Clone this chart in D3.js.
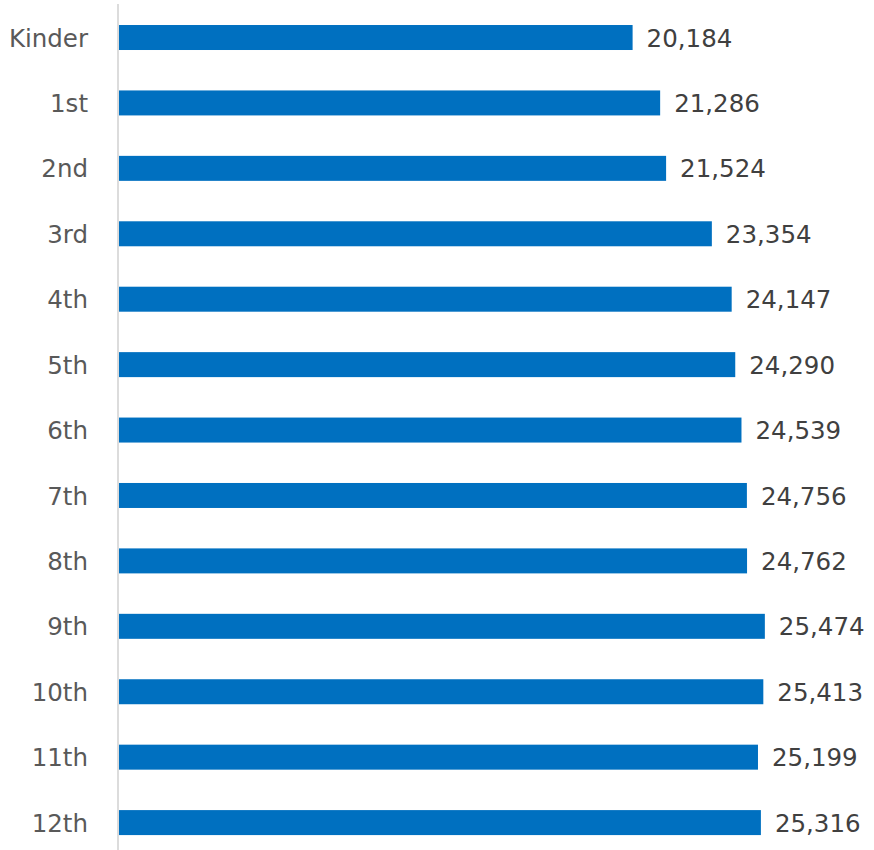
<!DOCTYPE html>
<html><head><meta charset="utf-8">
<script src="https://cdn.jsdelivr.net/npm/d3@7"></script>
<style>body{margin:0;background:#fff}</style>
</head><body>
<svg id="c" width="874" height="850"></svg>
<script>
const categories = ["Kinder","1st","2nd","3rd","4th","5th","6th","7th","8th","9th","10th","11th","12th"];
const values = [20184,21286,21524,23354,24147,24290,24539,24756,24762,25474,25413,25199,25316];

const svg = d3.select("#c");
const axisX = 118;
const x = d3.scaleLinear().domain([0, 30000]).range([128, 878]);
const y = d3.scaleBand().domain(categories).range([4.8, 855.3]).paddingInner(0.618).paddingOuter(0.309);
const font = "'DejaVu Sans', sans-serif";

svg.selectAll("rect.bar").data(values).join("rect")
  .attr("class","bar")
  .attr("x", axisX + 1)
  .attr("y", (d,i) => y(categories[i]))
  .attr("width", d => x(d) - axisX - 1)
  .attr("height", y.bandwidth())
  .attr("fill", "#0070C0");

svg.append("line").attr("x1", axisX).attr("x2", axisX).attr("y1", 4).attr("y2", 850)
  .attr("stroke", "#d9d9d9").attr("stroke-width", 1.8);

svg.selectAll("text.cat").data(categories).join("text")
  .attr("class","cat")
  .attr("x", 88)
  .attr("y", d => y(d) + y.bandwidth()/2)
  .attr("dy", "0.37em")
  .attr("text-anchor", "end")
  .attr("font-family", font).attr("font-size", 24.5)
  .attr("fill", "#595959")
  .text(d => d);

const fmt = d3.format(",");
svg.selectAll("text.val").data(values).join("text")
  .attr("class","val")
  .attr("x", d => x(d) + 14)
  .attr("y", (d,i) => y(categories[i]) + y.bandwidth()/2)
  .attr("dy", "0.37em")
  .attr("font-family", font).attr("font-size", 24.5)
  .attr("fill", "#404040")
  .text(d => fmt(d));
</script>
</body></html>
